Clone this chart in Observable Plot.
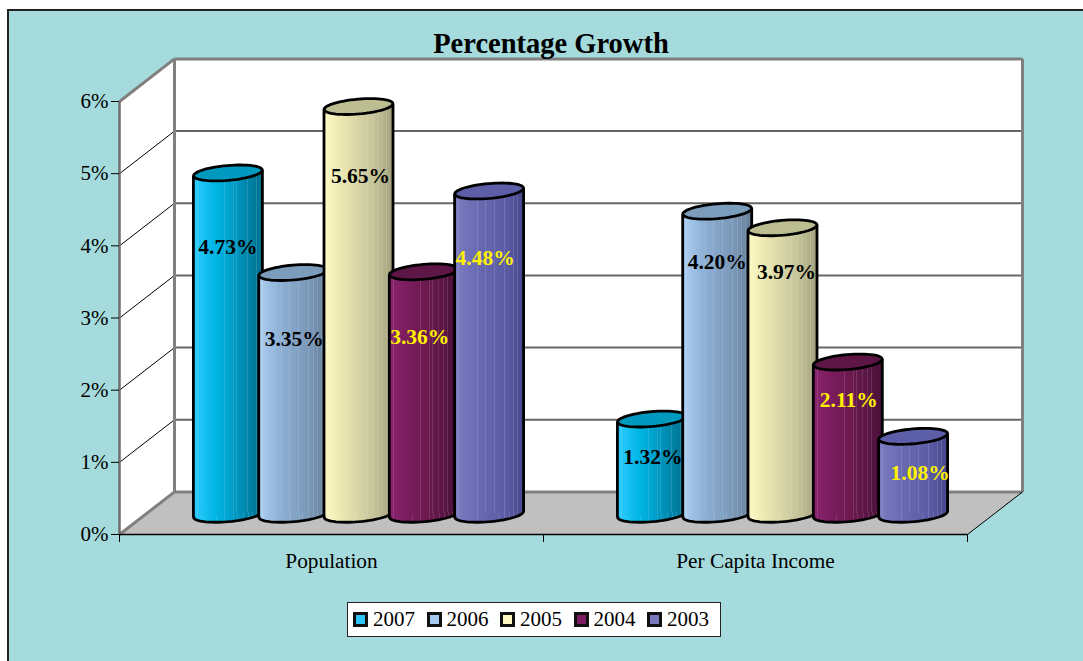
<!DOCTYPE html>
<html>
<head>
<meta charset="utf-8">
<script src="https://cdn.jsdelivr.net/npm/d3@7"></script>
<script src="https://cdn.jsdelivr.net/npm/@observablehq/plot@0.6"></script>
<style>
  html, body { margin: 0; padding: 0; background: #fff; }
  body { position: relative; width: 1083px; height: 661px; overflow: hidden; font-family: "Liberation Serif", serif; }
  #panel { position: absolute; left: 7px; top: 9px; right: 0; bottom: 0; background: #a5dbdc; border-left: 2px solid #222; border-top: 2px solid #222; }
  #chart { position: absolute; left: 0; top: 0; }
  #chart svg { display: block; background: transparent; }
  #title { position: absolute; left: 0; width: 1102px; top: 28px; text-align: center; font-size: 28.5px; font-weight: bold; line-height: 32px; color: #000; }
  #legend { position: absolute; left: 347px; top: 602px; width: 372px; height: 33px; background: #fff; border: 1px solid #222; box-sizing: content-box; }
  #legend .item { position: absolute; top: 0; height: 33px; display: flex; align-items: center; font-size: 21px; color: #000; }
  #legend .swatch { width: 9px; height: 9px; border: 3px solid #111; margin-right: 5px; }
</style>
</head>
<body>
<div id="panel"></div>
<div id="chart"></div>
<div id="title">Percentage Growth</div>
<div id="legend"></div>
<script>
// Growth figures, one value per year for each category
const years = ["2007", "2006", "2005", "2004", "2003"];
const categories = ["Population", "Per Capita Income"];
const population = [4.73, 3.35, 5.65, 3.36, 4.48];
const perCapitaIncome = [1.32, 4.20, 3.97, 2.11, 1.08];
const valueTicks = [0, 1, 2, 3, 4, 5, 6];

// Cylinder appearance per year
const swatchColors = ["#2fc6f7", "#a6caf0", "#fff9c4", "#7d1c63", "#7878bc"];
const capColors = ["#0099bf", "#7b9cbb", "#bdbd92", "#5e1647", "#5c5fa8"];
const sideRamps = [
  ["#35ccff", "#00bcec", "#00a5d2", "#0089ae", "#00708f"],
  ["#aed0f4", "#93b3da", "#84a5c8", "#7a97b6", "#667f9a"],
  ["#fffcc8", "#ebe7b2", "#d8d6a6", "#c2c198", "#a2a27c"],
  ["#8b2470", "#7b1c5c", "#6f1a52", "#5d1646", "#4a1038"],
  ["#7c7cc2", "#6e6eb6", "#6464ac", "#5c5ca6", "#48488f"]
];
const labelColors = ["#000", "#000", "#000", "#fff200", "#fff200"];

// Extent of the box's depth and of each cylinder, in axis units
const depthX = 55 / 424;
const depthY = 0.59;
const midDepthX = 27 / 424;
const midDepthY = 0.28;
const barStep = 65.3 / 424;
const barHalf = 34.5 / 424;
const tiltY = 0.04;
const barRadius = 34.5;

// Label placement relative to the top of its cylinder, in pixels
const labelShiftX = [[0, 1, 2, -4, -4], [1, 0, 4, 1, 7]];
const labelDrop = [[74, 67, 70, 65, 67], [38, 51, 44, 38, 37]];

// A tilted flat ellipse used for the cylinder ends
const tiltedEllipse = {
  draw(context, size) {
    const rx = Math.sqrt(size / Math.PI), ry = rx * 0.215, a = -5 * Math.PI / 180;
    for (let i = 0; i < 60; ++i) {
      const t = (i / 60) * 2 * Math.PI;
      const px = rx * Math.cos(t), py = ry * Math.sin(t);
      const qx = px * Math.cos(a) - py * Math.sin(a), qy = px * Math.sin(a) + py * Math.cos(a);
      if (i === 0) context.moveTo(qx, qy); else context.lineTo(qx, qy);
    }
    context.closePath();
  }
};

// Horizontal shading of the cylinder sides, with thin pale streaks
const streaks = [0.06, 0.33, 0.45, 0.58, 0.63, 0.72, 0.79, 0.85, 0.91];
function sideGradients() {
  const defs = d3.create("svg:defs");
  sideRamps.forEach((ramp, s) => {
    const shade = d3.piecewise(d3.interpolateRgb, ramp);
    const g = defs.append("linearGradient").attr("id", `side${s}`)
      .attr("x1", 0).attr("x2", 1).attr("y1", 0).attr("y2", 0);
    let stops = [[0, shade(0)]];
    for (const o of streaks) {
      const pale = d3.interpolateRgb(shade(o), "#fff")(0.12);
      stops.push([o, shade(o)], [o, pale], [o + 0.012, pale], [o + 0.012, shade(o + 0.012)]);
    }
    stops.push([1, shade(1)]);
    for (const [o, c] of stops) g.append("stop").attr("offset", o).attr("stop-color", c);
  });
  return defs.node();
}

const segment = (x1, y1, x2, y2, stroke, strokeWidth) =>
  Plot.link([0], {x1: () => x1, y1: () => y1, x2: () => x2, y2: () => y2, stroke, strokeWidth});
const polygon = (pts, fill) =>
  Plot.line(pts, {x: d => d[0], y: d => d[1], fill, stroke: "none", curve: "linear-closed"});

// The box: back wall, side wall, floor and their edges
const boxMarks = [
  polygon([[depthX, depthY], [2 + depthX, depthY], [2 + depthX, 6 + depthY], [depthX, 6 + depthY]], "#fff"),
  polygon([[0, 0], [depthX, depthY], [depthX, 6 + depthY], [0, 6]], "#fff"),
  polygon([[0, 0], [2, 0], [2 + depthX, depthY], [depthX, depthY]], "#c0c0c0"),
  ...valueTicks.slice(1, 6).flatMap(v => [
    segment(0, v, depthX, v + depthY, "#000", 1),
    segment(depthX, v + depthY, 2 + depthX, v + depthY, "#666", 2)
  ]),
  segment(depthX, depthY, 2 + depthX, depthY, "#808080", 3),
  segment(depthX, 6 + depthY, 2 + depthX, 6 + depthY, "#808080", 3),
  segment(depthX, depthY, depthX, 6 + depthY, "#808080", 3),
  segment(2 + depthX, depthY, 2 + depthX, 6 + depthY, "#808080", 3),
  segment(0, 6, depthX, 6 + depthY, "#808080", 3),
  segment(0, 0, depthX, depthY, "#808080", 3),
  segment(0, 0, 0, 6, "#6e6e6e", 2.5),
  segment(2, 0, 2 + depthX, depthY, "#000", 1),
  segment(0, 0, 2, 0, "#000", 1.5)
];

// One cylinder: lower end, shaded side, outline, upper end
function cylinder(group, s, value) {
  const cx = group + 0.5 + (s - 2) * barStep + midDepthX;
  const x0 = cx - barHalf, x1 = cx + barHalf;
  const base = midDepthY, top = value + midDepthY;
  const outline = {stroke: "#000", strokeWidth: 2.8};
  return [
    Plot.dot([0], {x: () => cx, y: () => base, r: barRadius, symbol: tiltedEllipse, fill: `url(#side${s})`, ...outline}),
    Plot.area([[x0, base - tiltY, top - tiltY], [x1, base + tiltY, top + tiltY]],
      {x1: d => d[0], y1: d => d[1], y2: d => d[2], fill: `url(#side${s})`, curve: "linear"}),
    segment(x0, base - tiltY, x0, top - tiltY, "#000", 2.8),
    segment(x1, base + tiltY, x1, top + tiltY, "#000", 2.8),
    Plot.dot([0], {x: () => cx, y: () => top, r: barRadius, symbol: tiltedEllipse, fill: capColors[s], ...outline})
  ];
}

const seriesByGroup = [population, perCapitaIncome];
const cylinderMarks = seriesByGroup.flatMap((values, g) => values.flatMap((v, s) => cylinder(g, s, v)));

// Value labels drawn over all the cylinders
const labelMarks = seriesByGroup.flatMap((values, g) => values.map((v, s) =>
  Plot.text([v], {
    x: () => g + 0.5 + (s - 2) * barStep + midDepthX,
    y: d => d + midDepthY,
    text: d => d3.format(".2f")(d) + "%",
    dx: labelShiftX[g][s],
    dy: labelDrop[g][s],
    fill: labelColors[s],
    fontSize: 21.5,
    fontWeight: "bold"
  })
));

const chart = Plot.plot({
  width: 1083,
  height: 661,
  marginLeft: 119,
  marginRight: 116,
  marginTop: 101,
  marginBottom: 127,
  style: {fontFamily: "Liberation Serif", color: "#000", background: "transparent", overflow: "visible"},
  x: {domain: [0, 2], axis: null},
  y: {domain: [0, 6], axis: null},
  marks: [
    sideGradients,
    ...boxMarks,
    ...cylinderMarks,
    ...labelMarks,
    Plot.axisY({ticks: valueTicks, tickFormat: d => d + "%", tickSize: 8, tickPadding: 3, fontSize: 21, label: null}),
    Plot.axisX({ticks: [0, 1, 2], tickFormat: () => "", tickSize: 8, label: null}),
    Plot.axisX({ticks: [0.5, 1.5], tickFormat: d => categories[Math.floor(d)], tickSize: 0, tickPadding: 18, fontSize: 21.3, label: null})
  ]
});
document.getElementById("chart").append(chart);

// Legend row under the chart
const legend = d3.select("#legend");
years.forEach((year, s) => {
  const item = legend.append("div").attr("class", "item").style("left", `${5 + s * 73.5}px`);
  item.append("div").attr("class", "swatch").style("background", swatchColors[s]);
  item.append("span").text(year);
});
</script>
</body>
</html>
